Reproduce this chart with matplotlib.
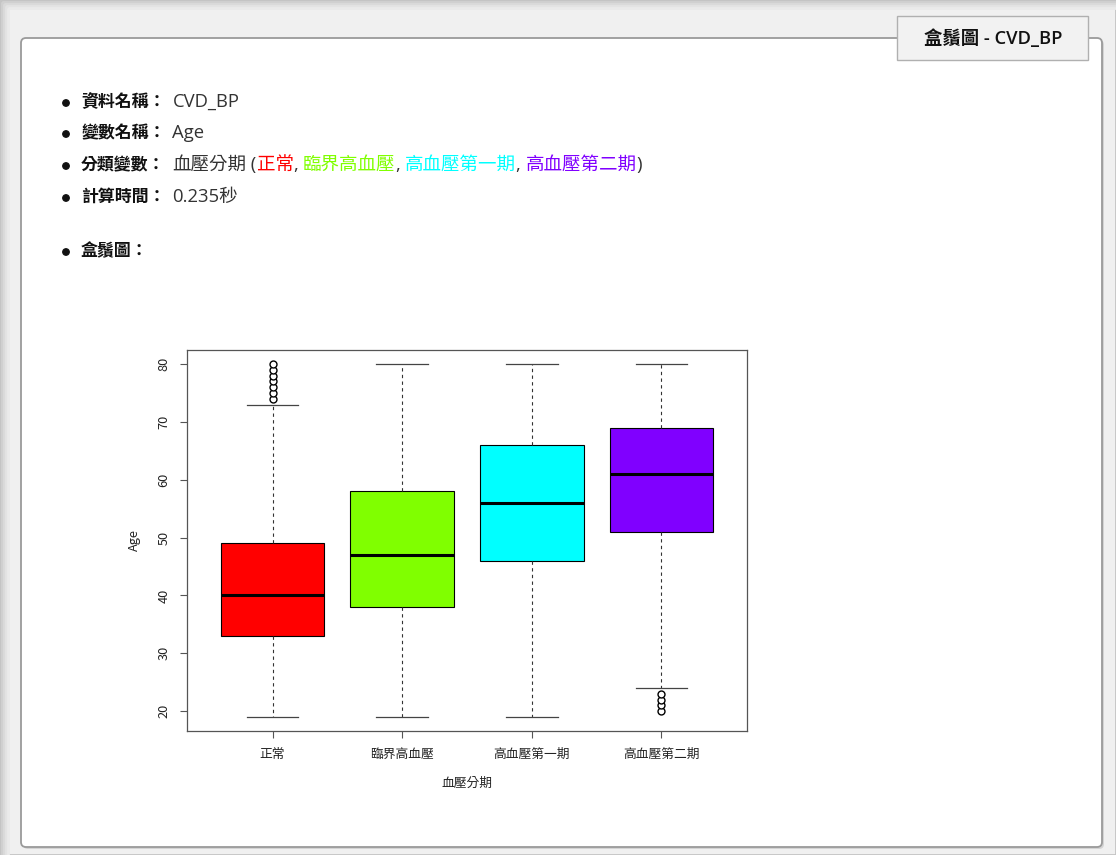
import matplotlib
matplotlib.use('Agg')
import matplotlib.pyplot as plt
from matplotlib.patches import FancyBboxPatch, Rectangle, Circle

CJK = ['Noto Sans CJK TC', 'DejaVu Sans']
LATIN = ['Open Sans', 'Noto Sans CJK TC', 'DejaVu Sans']
plt.rcParams['font.family'] = CJK

# 頁面文字
info_labels = ['資料名稱：', '變數名稱：', '分類變數：', '計算時間：']
info_values = ['CVD_BP', 'Age', '血壓分期', '0.235秒']
tab_title = '盒鬚圖 - CVD_BP'
plot_title = '盒鬚圖：'

# 各組年齡的五數摘要與離群值
groups = ['正常', '臨界高血壓', '高血壓第一期', '高血壓第二期']
group_colors = ['#ff0000', '#80ff00', '#00ffff', '#8000ff']
whislo = [19, 19, 19, 24]
q1 = [33, 38, 46, 51]
med = [40, 47, 56, 61]
q3 = [49, 58, 66, 69]
whishi = [73, 80, 80, 80]
fliers = [[74, 75, 76, 77, 78, 79, 80], [], [], [20, 21, 22, 23]]

W, H = 1116, 855
fig = plt.figure(figsize=(W / 100, H / 100), dpi=100)
fig.patch.set_facecolor('#f0f0f0')

# 整張圖用像素座標的底層
bg = fig.add_axes([0, 0, 1, 1])
bg.set_xlim(0, W)
bg.set_ylim(H, 0)
bg.axis('off')

# 視窗邊緣陰影
for i, c in enumerate(['#c4c4c4', '#d0d0d0', '#dadada', '#e3e3e3', '#eaeaea']):
    bg.add_patch(Rectangle((i * 2, i * 2), W, H, facecolor='none',
                           edgecolor=c, lw=2))

# 面板
bg.add_patch(FancyBboxPatch((23, 40), 1081, 809,
                            boxstyle='round,pad=0,rounding_size=5',
                            facecolor='#d4d4d4', edgecolor='none'))
bg.add_patch(FancyBboxPatch((21, 38), 1081, 809,
                            boxstyle='round,pad=0,rounding_size=5',
                            facecolor='white', edgecolor='#9a9a9a', lw=1.3))

# 分頁標籤
bg.add_patch(Rectangle((897, 16), 191, 44, facecolor='#f2f2f2',
                       edgecolor='#b0b0b0', lw=1))
bg.text(993, 39, tab_title, ha='center', va='center', fontsize=13.2,
        color='#111111', fontweight='semibold', family=LATIN)

renderer = fig.canvas.get_renderer()


def text_width(s, size, weight, family):
    t = bg.text(0, 0, s, fontsize=size, fontweight=weight, family=family)
    w = t.get_window_extent(renderer).width
    t.remove()
    return w


def put_run(x, y, pieces, size=13.3, weight='normal', family=LATIN):
    # 同一行多色文字：以前綴寬度決定每段起點
    full = ''
    for txt, color in pieces:
        start = (text_width(full + txt, size, weight, family)
                 - text_width(txt, size, weight, family))
        bg.text(x + start, y, txt, ha='left', va='center', fontsize=size,
                color=color, fontweight=weight, family=family)
        full += txt
    return x + text_width(full, size, weight, family)


line_y = [102, 133, 165, 197]
for i, (lab, val) in enumerate(zip(info_labels, info_values)):
    y = line_y[i]
    bg.add_patch(Circle((66, y + 1), 3.2, color='#111111'))
    x = put_run(81, y, [(lab, '#111111')], size=12.2, weight='bold',
                family=CJK)
    pieces = [(val, '#333333')]
    if i == 2:
        pieces.append((' (', '#333333'))
        for k, (g, c) in enumerate(zip(groups, group_colors)):
            pieces.append((g, c))
            if k < len(groups) - 1:
                pieces.append((', ', '#333333'))
        pieces.append((')', '#333333'))
    put_run(x + 7, y, pieces)

bg.add_patch(Circle((66, 252), 3.2, color='#111111'))
put_run(81, 251, [(plot_title, '#111111')], size=12.2, weight='bold',
        family=CJK)

# 盒鬚圖
ax = fig.add_axes([187 / W, (H - 731) / H, 560 / W, 381 / H])
stats = []
for i, g in enumerate(groups):
    stats.append(dict(label=g, whislo=whislo[i], q1=q1[i], med=med[i],
                      q3=q3[i], whishi=whishi[i], fliers=fliers[i]))

bp = ax.bxp(stats, positions=range(1, len(groups) + 1), widths=0.8,
            patch_artist=True, showfliers=True,
            boxprops=dict(edgecolor='black', lw=0.8),
            medianprops=dict(color='black', lw=2.2),
            whiskerprops=dict(color='#333333', lw=0.8, linestyle=(0, (3, 3))),
            capprops=dict(color='#444444', lw=0.9),
            capwidths=0.4,
            flierprops=dict(marker='o', markersize=5, markerfacecolor='white',
                            markeredgecolor='black', markeredgewidth=1))
for patch, c in zip(bp['boxes'], group_colors):
    patch.set_facecolor(c)

ax.set_xlim(0.34, 4.66)
ax.set_ylim(16.56, 82.44)
ax.set_yticks([20, 30, 40, 50, 60, 70, 80])
for s in ax.spines.values():
    s.set_color('#555555')
    s.set_linewidth(0.9)
ax.tick_params(axis='both', length=5, width=0.8, color='#555555',
               labelsize=9.2, labelcolor='#222222')
ax.tick_params(axis='x', pad=7)
ax.tick_params(axis='y', pad=7)
for lbl in ax.get_yticklabels():
    lbl.set_rotation(90)
    lbl.set_va('center')
ax.set_xlabel('血壓分期', fontsize=9.2, color='#222222', labelpad=12)
ax.set_ylabel('Age', fontsize=9.2, color='#222222', labelpad=12)

fig.savefig('out.png', dpi=100, facecolor=fig.get_facecolor())
